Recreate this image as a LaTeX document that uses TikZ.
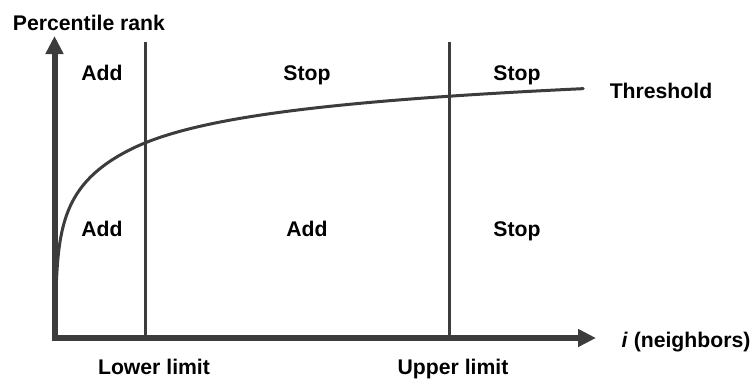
\documentclass[tikz,border=0pt]{standalone}
\usepackage{fontspec}
\setmainfont{Liberation Sans}
\usetikzlibrary{arrows.meta}
\definecolor{linegray}{HTML}{3C3C3C}
\begin{document}
\begin{tikzpicture}[x=1pt,y=-1pt,
  lbl/.style={anchor=base,inner sep=0pt,font=\fontsize{21.2}{25}\selectfont\bfseries,text=black},
  axisline/.style={draw=linegray,line width=6pt,line join=miter,
    {Triangle[width=17pt,length=18pt]}-{Triangle[width=17pt,length=18pt]}},
  limitline/.style={draw=linegray,line width=3pt},
  curveline/.style={draw=linegray,line width=3pt,line cap=round}]
\useasboundingbox (0,0) rectangle (753,378);
% axes
\coordinate (O) at (54.5,338);
\coordinate (ytip) at (54.5,36);
\coordinate (xtip) at (596,338);
\draw[axisline] (ytip) -- (O) -- (xtip);
% limit lines
\coordinate (lowtop) at (145.5,42);
\coordinate (lowbot) at (145.5,336);
\coordinate (uptop) at (449,42);
\coordinate (upbot) at (449,336);
\draw[limitline] (lowtop) -- (lowbot);
\draw[limitline] (uptop) -- (upbot);
% threshold curve
\draw[curveline] plot[domain=-1.2:6.272,samples=300,variable=\l]
  ({55.5+exp(\l)},{338-(187.9+37.5*(\l-4.3)+((\l<4.3)?1.67:-3.19)*(\l-4.3)*(\l-4.3))});
% labels
\node[lbl] (ylab) at (89,30) {Percentile rank};
\node[lbl] (add1) at (102,80) {Add};
\node[lbl] (stop1) at (307,80) {Stop};
\node[lbl] (stop2) at (517,80) {Stop};
\node[lbl] (thr) at (661,98.3) {Threshold};
\node[lbl] (add2) at (102,236) {Add};
\node[lbl] (add3) at (307,236) {Add};
\node[lbl] (stop3) at (517,236) {Stop};
\node[lbl] (low) at (154,374) {Lower limit};
\node[lbl] (up) at (453,374) {Upper limit};
\node[lbl] (xlab) at (686,347) {\textit{i} (neighbors)};
\end{tikzpicture}
\end{document}
